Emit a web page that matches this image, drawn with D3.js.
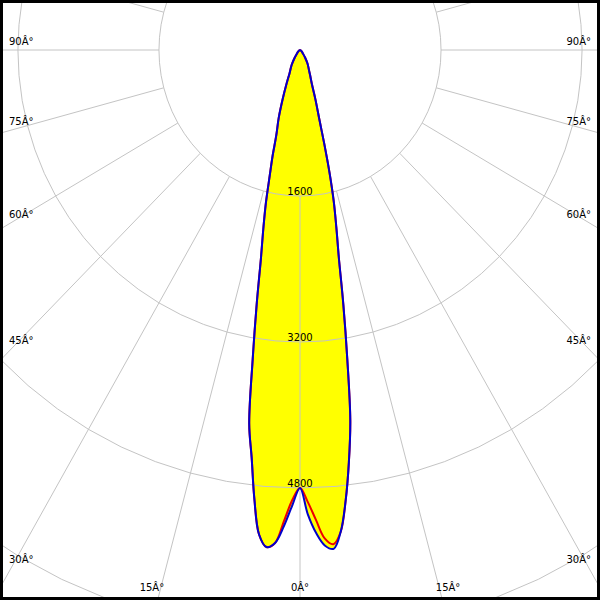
<!DOCTYPE html>
<html>
<head>
<meta charset="utf-8">
<script src="https://cdn.jsdelivr.net/npm/d3@7"></script>
<style>
  body { margin: 0; background: #fff; }
  svg { display: block; }
  text { font-family: "DejaVu Sans", Verdana, sans-serif; font-size: 10px; fill: #000; }
</style>
</head>
<body>
<script>
// ---- data (angles in degrees from nadir, intensities in cd) ----
const angles     = [0, 1, 2, 3, 4, 5, 6, 7, 8, 9, 10, 11, 12, 13, 14, 15, 16, 18, 20, 22.5, 25, 30, 35, 40, 50, 60, 90];
const blueRight  = [4800, 5090, 5300, 5440, 5480, 5300, 4960, 4550, 4100, 3430, 2830, 2300, 1980, 1700, 1380, 1060, 810, 560, 390, 300, 240, 170, 100, 55, 25, 10, 0];
const blueLeft   = [4800, 4990, 5220, 5410, 5460, 5330, 4950, 4500, 4140, 3430, 2830, 2320, 2000, 1720, 1420, 1200, 980, 780, 580, 395, 280, 190, 110, 60, 25, 10, 0];
const redRight   = [4800, 4950, 5150, 5360, 5430, 5300, 4960, 4550, 4100, 3430, 2830, 2300, 1980, 1700, 1380, 1060, 810, 560, 390, 300, 240, 170, 100, 55, 25, 10, 0];
const redLeft    = [4800, 4930, 5160, 5410, 5460, 5330, 4950, 4500, 4140, 3430, 2830, 2320, 2000, 1720, 1420, 1200, 980, 780, 580, 395, 280, 190, 110, 60, 25, 10, 0];
const ringValues = [1600, 3200, 4800, 6400];
const spokeAngles = d3.range(-180, 181, 15);
const angleLabels = [-90, -75, -60, -45, -30, -15, 0, 15, 30, 45, 60, 75, 90];
const degSuffix = "Â°";

// ---- layout ----
const W = 600, H = 600;
const cx = 300, cy = 50, aspect = 0.966;
const r = d3.scaleLinear().domain([0, 1600]).range([0, 146]);
const rad = d => d * Math.PI / 180;
function pt(aDeg, I) {
  const a = rad(aDeg);
  return [cx + r(I) * Math.sin(a) * aspect, cy + r(I) * Math.cos(a)];
}

const svg = d3.select("body").append("svg").attr("width", W).attr("height", H);
svg.append("rect").attr("width", W).attr("height", H).attr("fill", "#fff");

function curvePoints(left, right) {
  const pts = [];
  for (let i = angles.length - 1; i >= 0; i--) pts.push(pt(-angles[i], left[i]));
  for (let i = 1; i < angles.length; i++) pts.push(pt(angles[i], right[i]));
  return pts;
}
const line = d3.line().x(d => d[0]).y(d => d[1]).curve(d3.curveLinear);
const smooth = d3.line().x(d => d[0]).y(d => d[1]).curve(d3.curveCatmullRom.alpha(0.5));
const bluePts = curvePoints(blueLeft, blueRight);
const redPts = curvePoints(redLeft, redRight);

// fill
svg.append("path").attr("d", smooth(bluePts) + "Z").attr("fill", "#ffff00").attr("stroke", "none");

// grid rings
const g = svg.append("g").attr("fill", "none").attr("stroke", "#c4c4c4").attr("stroke-width", 1);
const ringSteps = d3.range(-180, 181, 5);
ringValues.forEach(v => {
  g.append("path").attr("d", line(ringSteps.map(a => pt(a, v))));
});
// spokes
spokeAngles.forEach(a => {
  const p0 = pt(a, ringValues[0]), p1 = pt(a, 20000);
  g.append("line").attr("x1", p0[0]).attr("y1", p0[1]).attr("x2", p1[0]).attr("y2", p1[1]);
});

// curves
svg.append("path").attr("d", smooth(redPts)).attr("fill", "none").attr("stroke", "#ee0000").attr("stroke-width", 2).attr("stroke-linejoin", "round");
svg.append("path").attr("d", smooth(bluePts)).attr("fill", "none").attr("stroke", "#0000cc").attr("stroke-width", 2).attr("stroke-linejoin", "round");

// ring labels (only those inside the frame)
ringValues.forEach(v => {
  const p = pt(0, v);
  if (p[1] < H - 10) {
    svg.append("text").attr("x", p[0]).attr("y", p[1] - 1).attr("text-anchor", "middle").text(v);
  }
});

// angle labels
angleLabels.forEach(a => {
  const s = Math.sign(a);
  const t = Math.abs(a) + degSuffix;
  if (Math.abs(a) >= 30) {
    const rr = 289 / (Math.sin(rad(Math.abs(a))) * aspect);
    const y = cy + rr * Math.cos(rad(a));
    svg.append("text")
      .attr("x", s < 0 ? 9 : 591).attr("y", y - 5)
      .attr("text-anchor", s < 0 ? "start" : "end").text(t);
  } else {
    const rr = 537 / Math.cos(rad(a));
    const x = cx + rr * Math.sin(rad(a)) * aspect;
    svg.append("text")
      .attr("x", x + 35 * Math.sin(rad(a))).attr("y", 591)
      .attr("text-anchor", "middle").text(t);
  }
});

// frame
svg.append("rect").attr("x", 1.5).attr("y", 1.5).attr("width", W - 3).attr("height", H - 3)
  .attr("fill", "none").attr("stroke", "#000").attr("stroke-width", 3);
</script>
</body>
</html>
